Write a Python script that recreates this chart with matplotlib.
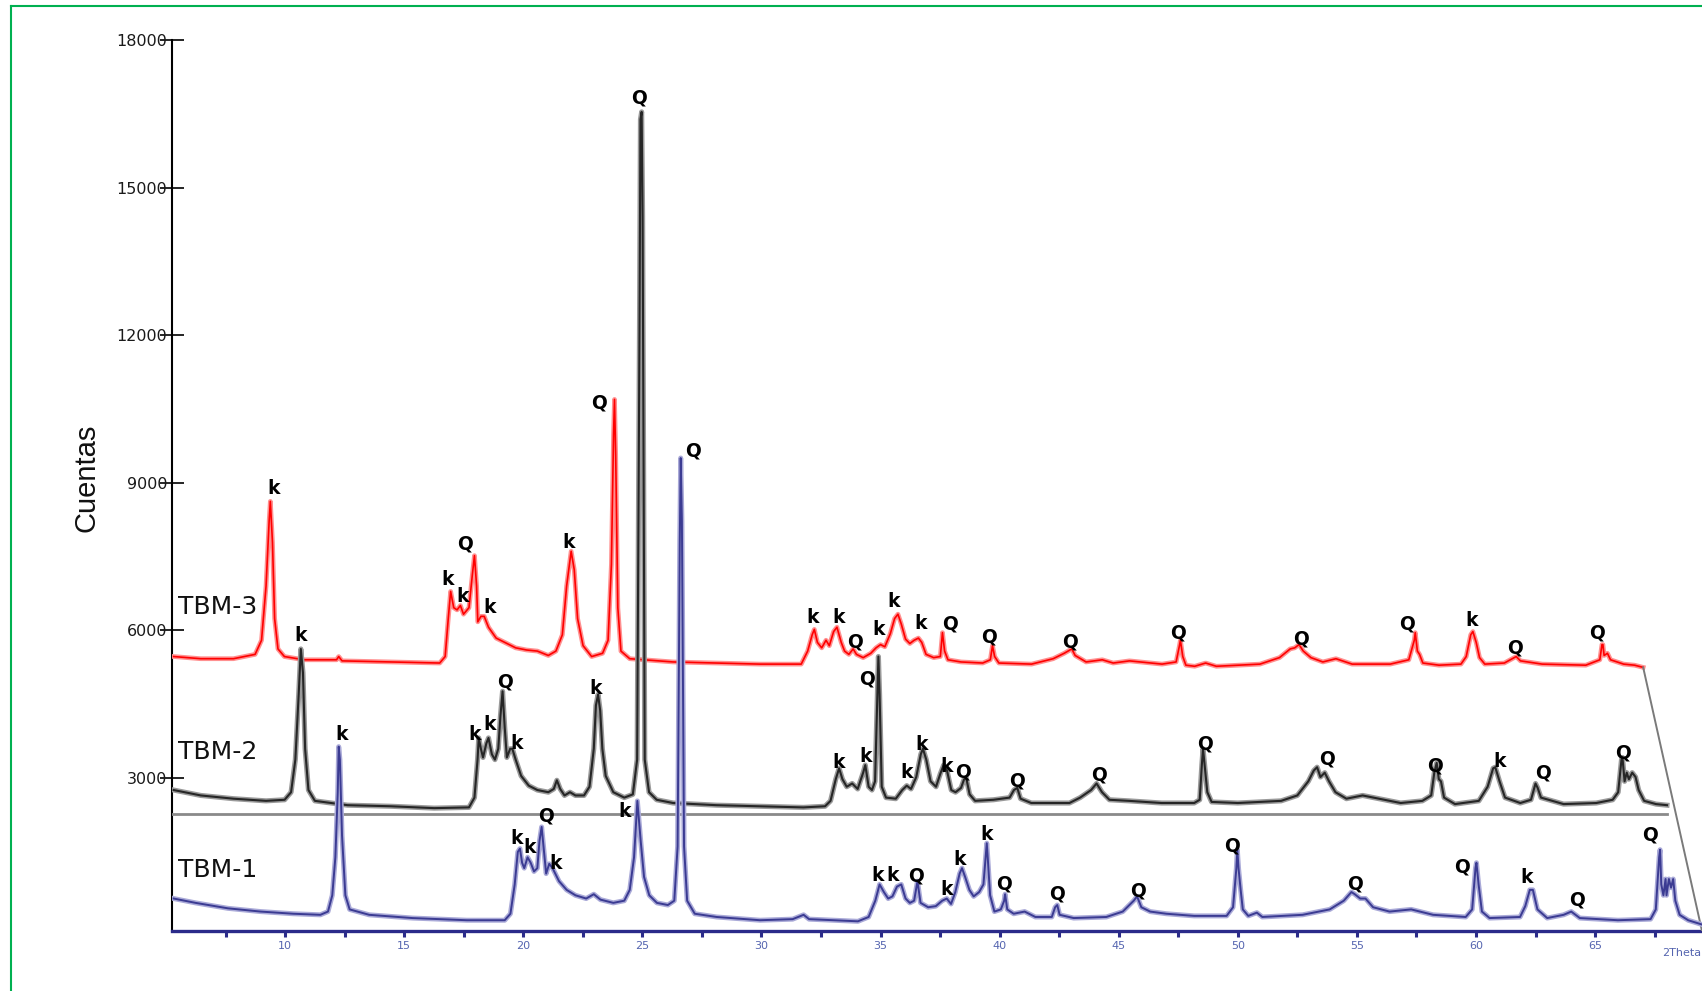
import matplotlib.pyplot as plt
import matplotlib.patheffects as pe
from matplotlib.lines import Line2D
from matplotlib.ticker import MultipleLocator

# --- TBM-1 (front pattern) : 2theta (deg) / counts ---
tbm1_2theta = [
    5.32, 6.24, 7.60, 8.97, 10.34, 11.48, 11.80, 11.98, 12.11, 12.21,
    12.25, 12.30, 12.39, 12.53, 12.71, 13.53, 15.35, 17.63, 19.22, 19.46,
    19.64, 19.77, 19.86, 19.95, 20.04, 20.18, 20.31, 20.45, 20.59, 20.68,
    20.77, 20.87, 20.96, 21.09, 21.23, 21.50, 21.82, 22.19, 22.64, 22.96,
    23.24, 23.78, 24.24, 24.47, 24.65, 24.79, 24.93, 25.07, 25.29, 25.61,
    26.07, 26.34, 26.48, 26.57, 26.61, 26.66, 26.75, 26.88, 27.20, 28.12,
    29.94, 31.31, 31.77, 32.00, 34.05, 34.50, 34.78, 34.96, 35.14, 35.32,
    35.50, 35.69, 35.87, 36.05, 36.23, 36.41, 36.55, 36.68, 37.00, 37.32,
    37.59, 37.78, 37.96, 38.14, 38.32, 38.42, 38.55, 38.73, 38.91, 39.14,
    39.32, 39.41, 39.46, 39.50, 39.60, 39.78, 40.05, 40.19, 40.23, 40.32,
    40.59, 41.05, 41.50, 42.19, 42.33, 42.42, 42.52, 43.11, 44.48, 45.17,
    45.63, 45.77, 45.95, 46.32, 47.00, 48.17, 49.53, 49.80, 49.94, 49.98,
    50.03, 50.12, 50.21, 50.44, 50.80, 51.03, 52.72, 53.86, 54.45, 54.77,
    54.91, 55.14, 55.36, 55.68, 56.37, 57.28, 58.20, 59.57, 59.84, 59.98,
    60.02, 60.11, 60.25, 60.57, 61.85, 62.07, 62.26, 62.39, 62.58, 62.99,
    63.68, 64.00, 64.36, 65.96, 67.33, 67.55, 67.69, 67.73, 67.78, 67.87,
    67.96, 68.00, 68.10, 68.19, 68.28, 68.37, 68.55, 68.91, 69.50]
tbm1_counts = [
    545, 457, 346, 280, 236, 214, 280, 611, 1383, 2707,
    3633, 3369, 1824, 611, 324, 214, 148, 104, 104, 236,
    832, 1493, 1560, 1273, 1163, 1383, 1273, 1096, 1163, 1714,
    2001, 1493, 1052, 1251, 1163, 898, 721, 611, 545, 633,
    523, 457, 501, 721, 1383, 2530, 1714, 986, 611, 457,
    413, 501, 1604, 7781, 9501, 8222, 1604, 501, 236, 170,
    104, 126, 214, 126, 82, 170, 501, 832, 677, 545,
    589, 788, 832, 545, 457, 501, 898, 457, 368, 390,
    501, 545, 435, 677, 1052, 1163, 986, 721, 589, 677,
    832, 1383, 1670, 1383, 611, 280, 324, 500, 633, 324,
    236, 280, 170, 170, 368, 413, 214, 148, 170, 280,
    501, 589, 368, 280, 236, 192, 192, 368, 1163, 1538,
    1163, 721, 324, 192, 258, 170, 214, 324, 501, 677,
    633, 545, 545, 368, 280, 324, 214, 170, 324, 1163,
    1273, 832, 280, 148, 170, 391, 721, 721, 324, 148,
    214, 280, 148, 104, 126, 324, 1383, 1538, 832, 611,
    942, 611, 942, 766, 942, 501, 214, 104, 15]

# --- TBM-2 (middle pattern) ---
tbm2_2theta = [
    6.94, 8.08, 9.45, 10.82, 11.60, 11.87, 12.05, 12.19, 12.28, 12.37,
    12.46, 12.60, 12.87, 14.24, 16.06, 17.88, 19.34, 19.57, 19.70, 19.75,
    19.84, 19.93, 20.07, 20.16, 20.30, 20.43, 20.57, 20.66, 20.75, 20.84,
    20.93, 21.07, 21.16, 21.30, 21.53, 21.85, 22.21, 22.67, 22.90, 23.03,
    23.17, 23.35, 23.58, 23.81, 24.17, 24.40, 24.58, 24.67, 24.76, 24.85,
    24.94, 25.08, 25.40, 25.86, 26.22, 26.40, 26.50, 26.54, 26.59, 26.63,
    26.72, 26.90, 27.22, 27.91, 29.73, 31.56, 33.38, 34.29, 34.52, 34.74,
    34.88, 35.02, 35.20, 35.43, 35.66, 35.89, 35.98, 36.12, 36.26, 36.39,
    36.49, 36.53, 36.58, 36.67, 36.85, 37.26, 37.53, 37.72, 37.90, 38.12,
    38.31, 38.40, 38.54, 38.72, 38.95, 39.13, 39.27, 39.41, 39.59, 39.77,
    40.00, 40.13, 40.22, 40.36, 40.59, 41.36, 42.04, 42.22, 42.36, 42.50,
    42.95, 44.55, 45.00, 45.46, 45.69, 45.92, 46.23, 47.05, 48.42, 49.79,
    50.02, 50.11, 50.16, 50.25, 50.34, 50.52, 51.62, 53.44, 54.12, 54.58,
    54.81, 54.95, 55.09, 55.27, 55.45, 55.72, 56.18, 56.86, 57.32, 58.46,
    59.37, 59.74, 59.87, 59.97, 60.06, 60.15, 60.28, 60.74, 61.74, 62.11,
    62.34, 62.43, 62.61, 62.84, 63.48, 63.93, 64.12, 64.21, 64.35, 65.30,
    66.67, 67.36, 67.59, 67.73, 67.77, 67.86, 67.95, 68.04, 68.18, 68.32,
    68.45, 68.68, 69.18, 69.64]
tbm2_counts = [
    368, 258, 192, 148, 170, 324, 986, 2310, 3236, 2751,
    1207, 368, 148, 60, 38, 0, 15, 214, 986, 1427,
    1207, 1030, 1317, 1427, 1096, 986, 1207, 1868, 2376, 1648,
    1030, 1207, 1207, 986, 655, 457, 368, 324, 390, 567,
    390, 258, 324, 258, 258, 435, 1207, 2089, 2310, 1979,
    1207, 655, 324, 214, 280, 986, 9810, 14001, 14156, 12016,
    986, 324, 170, 104, 60, 38, 15, 38, 148, 589,
    810, 589, 435, 501, 390, 721, 876, 435, 368, 545,
    2310, 3082, 2310, 435, 214, 192, 368, 457, 390, 633,
    1096, 1207, 986, 545, 435, 699, 876, 765, 368, 324,
    412, 589, 611, 280, 148, 170, 214, 368, 412, 192,
    104, 104, 214, 368, 501, 324, 170, 148, 104, 104,
    170, 876, 1207, 765, 324, 126, 104, 148, 258, 545,
    765, 832, 633, 721, 545, 324, 192, 258, 214, 104,
    148, 258, 721, 920, 589, 545, 214, 82, 148, 435,
    810, 832, 545, 214, 104, 170, 501, 412, 214, 82,
    104, 170, 324, 986, 1030, 545, 721, 589, 721, 633,
    368, 148, 82, 60]

# --- TBM-3 (back pattern) ---
tbm3_2theta = [
    8.02, 9.16, 10.53, 11.44, 11.71, 11.90, 12.03, 12.08, 12.17, 12.26,
    12.40, 12.67, 13.49, 14.86, 14.95, 15.09, 17.14, 19.19, 19.42, 19.55,
    19.65, 19.78, 19.92, 20.06, 20.19, 20.42, 20.56, 20.65, 20.74, 20.79,
    20.92, 21.06, 21.24, 21.56, 21.92, 22.38, 22.84, 23.29, 23.75, 24.07,
    24.34, 24.52, 24.71, 24.84, 24.98, 25.21, 25.57, 26.03, 26.26, 26.40,
    26.49, 26.53, 26.58, 26.67, 26.80, 27.17, 28.99, 30.81, 32.64, 34.37,
    34.64, 34.83, 34.92, 35.05, 35.23, 35.41, 35.55, 35.73, 35.87, 36.05,
    36.19, 36.37, 36.55, 36.69, 36.97, 37.29, 37.51, 37.70, 37.88, 38.11,
    38.29, 38.43, 38.57, 38.75, 38.93, 39.11, 39.29, 39.43, 39.61, 39.93,
    40.21, 40.30, 40.39, 40.53, 41.08, 41.99, 42.31, 42.40, 42.49, 42.67,
    44.04, 44.95, 45.41, 45.73, 45.87, 46.33, 47.01, 47.47, 48.15, 49.52,
    50.11, 50.25, 50.29, 50.39, 50.52, 50.89, 51.35, 51.80, 53.63, 54.45,
    54.90, 55.09, 55.27, 55.45, 55.77, 56.27, 56.82, 57.50, 59.10, 59.88,
    60.11, 60.15, 60.24, 60.33, 60.47, 61.15, 62.07, 62.29, 62.48, 62.57,
    62.71, 62.85, 63.07, 63.89, 64.39, 64.57, 65.48, 67.31, 67.90, 67.99,
    68.03, 68.08, 68.22, 68.35, 68.90, 69.36, 69.72]
tbm3_counts = [
    699, 655, 655, 743, 1030, 2133, 3457, 3854, 3016, 1471,
    854, 699, 633, 633, 699, 611, 589, 567, 699, 1471,
    2023, 1692, 1648, 1736, 1560, 1692, 2354, 2751, 2133, 1405,
    1516, 1516, 1295, 1074, 986, 876, 832, 810, 721, 810,
    1141, 2133, 2839, 2464, 1471, 920, 699, 765, 1030, 2574,
    5222, 5927, 4780, 1692, 810, 655, 589, 567, 545, 545,
    810, 1141, 1251, 986, 876, 1030, 920, 1207, 1295, 986,
    810, 743, 854, 743, 677, 765, 876, 942, 898, 1163,
    1471, 1560, 1361, 1052, 964, 1030, 1074, 986, 743, 677,
    699, 1185, 810, 633, 589, 567, 633, 920, 699, 567,
    545, 655, 765, 854, 721, 589, 633, 567, 611, 545,
    589, 920, 1030, 699, 523, 501, 567, 501, 545, 677,
    854, 876, 942, 810, 677, 589, 655, 545, 545, 633,
    1030, 1185, 810, 743, 567, 523, 545, 699, 1141, 1207,
    986, 677, 545, 567, 699, 611, 545, 523, 633, 942,
    942, 721, 765, 633, 545, 523, 479]

# phase tags (k = kaolinite, Q = quartz): 2theta, counts, phase
tbm1_tags = [(12.36, 3876, 'k'), (19.73, 1758, 'k'), (20.28, 1582, 'k'), (20.96, 2221, 'Q'),
             (21.37, 1251, 'k'), (24.24, 2310, 'k'), (27.11, 9634, 'Q'), (34.87, 1012, 'k'),
             (35.51, 1012, 'k'), (36.50, 1012, 'Q'), (37.78, 725, 'k'), (38.32, 1343, 'k'),
             (39.46, 1850, 'k'), (40.19, 832, 'Q'), (42.42, 633, 'Q'), (45.80, 699, 'Q'),
             (49.77, 1608, 'Q'), (54.91, 832, 'Q'), (59.42, 1185, 'Q'), (62.11, 964, 'k'),
             (64.26, 523, 'Q'), (67.31, 1829, 'Q')]
tbm2_tags = [(12.28, 3501, 'k'), (19.57, 1493, 'k'), (20.21, 1692, 'k'), (20.84, 2574, 'Q'),
             (21.35, 1317, 'k'), (24.67, 2442, 'k'), (26.50, 14443, 'Q'), (34.88, 920, 'k'),
             (35.98, 1052, 'k'), (36.07, 2619, 'Q'), (37.71, 721, 'k'), (38.35, 1295, 'k'),
             (39.41, 854, 'k'), (40.08, 743, 'Q'), (42.36, 545, 'Q'), (45.78, 677, 'Q'),
             (50.25, 1295, 'Q'), (55.36, 1008, 'Q'), (59.92, 854, 'Q'), (62.61, 942, 'k'),
             (64.44, 721, 'Q'), (67.81, 1118, 'Q')]
tbm3_tags = [(12.22, 4119, 'k'), (19.51, 2266, 'k'), (20.15, 1913, 'k'), (20.24, 2994, 'Q'),
             (21.29, 1692, 'k'), (24.62, 3016, 'k'), (25.89, 5861, 'Q'), (34.83, 1493, 'k'),
             (35.92, 1493, 'k'), (36.65, 986, 'Q'), (37.60, 1251, 'k'), (38.24, 1824, 'k'),
             (39.38, 1361, 'k'), (40.61, 1361, 'Q'), (42.25, 1096, 'Q'), (45.67, 986, 'Q'),
             (50.20, 1185, 'Q'), (55.35, 1052, 'Q'), (59.80, 1361, 'Q'), (62.53, 1427, 'k'),
             (64.35, 876, 'Q'), (67.79, 1185, 'Q')]

names = ['TBM-1', 'TBM-2', 'TBM-3']
y_ticks = [3000, 6000, 9000, 12000, 15000, 18000]
x_ticks = [10, 15, 20, 25, 30, 35, 40, 45, 50, 55, 60, 65]

# stacking: each pattern shifted left/up to give the pseudo 3D view
shift_2theta = [0.0, -1.62, -2.70]
shift_counts = [0, 2383, 4766]

fig = plt.figure(figsize=(17.02, 9.91), dpi=100)
ax = fig.add_axes([171.5 / 1702, 60 / 991, 1530.5 / 1702, 891 / 991])
ax.set_xlim(5.23, 69.49)
ax.set_ylim(-115, 18000)

patterns = [
    (tbm1_2theta, tbm1_counts, tbm1_tags, '#3b3b92', '#aaaad8', 1.4, 30),
    (tbm2_2theta, tbm2_counts, tbm2_tags, '#262626', '#9a9a9a', 1.5, 20),
    (tbm3_2theta, tbm3_counts, tbm3_tags, '#ff0000', '#ff9090', 1.2, 10),
]
name_counts = [1118, 1140, 1713]

for i, (tt, cc, tags, col, halo, lw, z) in enumerate(patterns):
    dx, dy = shift_2theta[i], shift_counts[i]
    ax.plot([t + dx for t in tt], [c + dy for c in cc], color=col, lw=lw, zorder=z,
            solid_joinstyle='round',
            path_effects=[pe.Stroke(linewidth=lw + 2.2, foreground=halo), pe.Normal()])
    for t, c, s in tags:
        ax.text(t + dx, c + dy, s, ha='center', va='center', fontsize=13.5,
                fontweight='bold', color='black', zorder=40)
    ax.text(5.5, name_counts[i] + dy, names[i], ha='left', va='center',
            fontsize=18, color='#111111', zorder=40)

# base line of the middle pattern and the perspective edge
ax.plot([5.23, tbm2_2theta[-1] + shift_2theta[1]], [shift_counts[1] - 117] * 2,
        color='#8a8a8a', lw=2, zorder=15)
ax.plot([tbm3_2theta[-1] + shift_2theta[2], 69.49],
        [tbm3_counts[-1] + shift_counts[2], -115], color='#7a7a7a', lw=1.4, zorder=15)

for side in ['top', 'right']:
    ax.spines[side].set_visible(False)
ax.spines['left'].set_color('black')
ax.spines['left'].set_linewidth(1.5)
ax.spines['bottom'].set_color('#2b2b8a')
ax.spines['bottom'].set_linewidth(2.4)

ax.set_yticks(y_ticks)
ax.set_yticklabels([str(v) for v in y_ticks])
ax.tick_params(axis='y', direction='inout', length=17, width=1.2, color='black',
               pad=-5.5, labelsize=11.5, labelcolor='#1a1a1a')

ax.xaxis.set_minor_locator(MultipleLocator(2.5))
ax.set_xticks(x_ticks)
ax.set_xticklabels([str(v) for v in x_ticks])
ax.tick_params(axis='x', which='both', direction='out', length=4, width=2.2,
               color='#2b2b8a', pad=3, labelsize=8, labelcolor='#5565b0')

fig.text(1662 / 1702, 1 - 953 / 991, '2Theta', ha='left', va='center', fontsize=8,
         color='#5565b0')
fig.text(87 / 1702, 1 - 478 / 991, 'Cuentas', rotation=90, ha='center', va='center',
         fontsize=21, color='#111111', family=['Liberation Sans', 'DejaVu Sans'])

# green frame around the plot
fig.add_artist(Line2D([10.5 / 1702, 10.5 / 1702], [0, 1 - 6 / 991],
                      transform=fig.transFigure, color='#00b050', lw=1.5))
fig.add_artist(Line2D([10.5 / 1702, 1], [1 - 6 / 991, 1 - 6 / 991],
                      transform=fig.transFigure, color='#00b050', lw=1.5))

fig.savefig('out.png', dpi=100)
